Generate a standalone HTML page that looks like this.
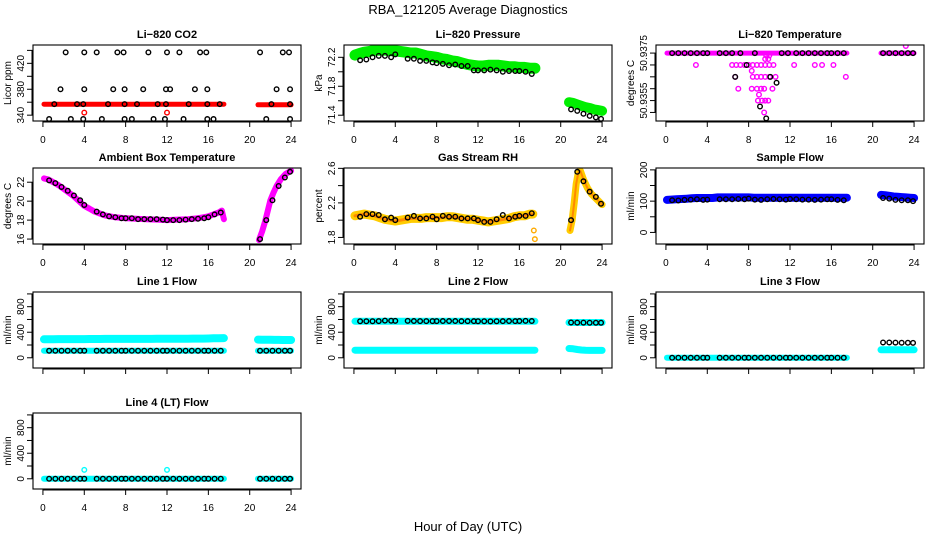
<!DOCTYPE html>
<html><head><meta charset="utf-8"><style>
body{margin:0;background:#fff;}
svg{display:block;font-family:"Liberation Sans",sans-serif;}
</style></head><body>
<svg id="chart" width="936" height="540" viewBox="0 0 936 540" xmlns="http://www.w3.org/2000/svg">
<text x="468" y="14" text-anchor="middle" font-size="13">RBA_121205  Average Diagnostics</text>
<text x="468" y="531" text-anchor="middle" font-size="13">Hour of Day (UTC)</text>
</svg>
<script>
// ---- shared times ----
const bandT1 = [0.1,0.5,1,1.5,2,2.5,3,3.5,4,4.5,5,5.5,6,6.5,7,7.5,8,8.5,9,9.5,10,10.5,11,11.5,12,12.5,13,13.5,14,14.5,15,15.5,16,16.5,17,17.5];
const bandT2 = [20.8,21.2,21.6,22,22.4,22.8,23.2,23.6,24];
const blackT = [0.6,1.2,1.8,2.4,3,3.6,4,5.2,5.8,6.4,7,7.6,8,8.6,9.2,9.8,10.4,11,11.6,12,12.6,13.2,13.8,14.4,15,15.6,16,16.6,17.2,21,21.6,22.2,22.8,23.4,23.9];
const xTicks = [0,4,8,12,16,20,24];

// ---- CO2 ----
const co2Band1 = bandT1.map(()=>357);
const co2Band2 = bandT2.map(()=>356);
const co2BlackT = [2.2,4,5.2,7.2,7.8,10.2,12,13.2,15.2,15.8,21,23.2,23.8, 1.7,4,6.8,7.9,9.7,11.9,12.3,14.7,15.9,22.6,23.9, 1.1,3.3,3.9,6.3,7.9,9.1,11.1,11.9,14.1,15.9,17.1,22.1,23.9, 0.6,2.7,3.9,5.7,7.9,8.6,10.7,11.8,13.6,15.9,16.5,21.6,23.9];
const co2BlackV = [437,437,437,437,437,437,437,437,437,437,437,437,437, 380,380,380,380,380,380,380,380,380,380,380, 357,357,357,357,357,357,357,357,357,357,357,357,357, 334,334,334,334,334,334,334,334,334,334,334,334,334];
const co2RedT = [4,12];
const co2RedV = [344,344];

// ---- Pressure ----
const presBand1 = [72.23,72.25,72.27,72.28,72.30,72.30,72.30,72.29,72.29,72.28,72.27,72.26,72.26,72.24,72.22,72.21,72.20,72.18,72.17,72.15,72.14,72.12,72.10,72.09,72.08,72.08,72.09,72.09,72.09,72.08,72.07,72.07,72.06,72.06,72.05,72.05];
const presBand2 = [71.58,71.57,71.55,71.53,71.51,71.50,71.48,71.47,71.46];
const presBlackV = [72.16,72.17,72.20,72.22,72.22,72.20,72.24,72.18,72.18,72.15,72.15,72.13,72.12,72.11,72.09,72.10,72.08,72.08,72.02,72.02,72.02,72.03,72.02,72.00,72.01,72.01,72.01,72.00,71.97,71.48,71.46,71.42,71.39,71.37,71.35];

// ---- Li-820 Temperature ----
const tempBand1 = bandT1.map(()=>50.9375);
const tempBand2 = bandT2.map(()=>50.9375);
const tempMagT = [2.9,6.4,6.8,7.2,7.6,8,8.4,8.8,9.2,9.6,10,10.4,12.4,14.4,15.1,16.2,9.6,9.9,10,9.7,8.3,6.7,8.4,8.8,9.2,9.6,10,10.6,17.4,7,8.3,8.8,9.2,9.5,10.3,9,8.9,9.3,9.6,9.9,9.5,23.2];
const tempMagV = [50.937,50.937,50.937,50.937,50.937,50.937,50.937,50.937,50.937,50.937,50.937,50.937,50.937,50.937,50.937,50.937,50.93725,50.93725,50.9374,50.9374,50.93675,50.9365,50.9365,50.9365,50.9365,50.9365,50.9365,50.9365,50.9365,50.936,50.936,50.936,50.936,50.936,50.936,50.93575,50.9355,50.9355,50.9355,50.9355,50.9350,50.9378];
const tempBlackT = [0.6,1.2,1.8,2.4,3,3.6,4,5.2,5.8,6.4,7.2,8.6,11.2,11.8,12.6,13.2,13.8,14.4,15,15.6,16,16.6,17.2,21,21.6,22.2,22.8,23.4,23.9,7.8,6.7,10.1,10.7,9.1,9.7];
const tempBlackV = [50.9375,50.9375,50.9375,50.9375,50.9375,50.9375,50.9375,50.9375,50.9375,50.9375,50.9375,50.9375,50.9375,50.9375,50.9375,50.9375,50.9375,50.9375,50.9375,50.9375,50.9375,50.9375,50.9375,50.9375,50.9375,50.9375,50.9375,50.9375,50.9375,50.937,50.9365,50.9365,50.93625,50.93525,50.93475];
const tempTickV = [50.9375,50.937,50.9365,50.936,50.9355,50.935];
const tempTickL = ["50.9375","","","","50.9355",""];

// ---- Ambient ----
const ambT1 = [0.1,0.5,1,1.5,2,2.5,3,3.5,4,4.5,5,5.5,6,7,8,9,10,11,12,13,14,15,15.5,16,16.5,17,17.3,17.5];
const ambV1 = [22.4,22.3,22.0,21.7,21.3,20.9,20.5,20.0,19.5,19.2,18.9,18.7,18.5,18.3,18.2,18.15,18.1,18.05,18.0,18.05,18.1,18.2,18.3,18.4,18.6,18.8,19.0,18.1];
const ambT2 = [20.9,21.2,21.5,21.8,22,22.3,22.6,23,23.5,24];
const ambV2 = [15.9,16.8,17.9,19.2,20.1,20.9,21.6,22.3,22.9,23.2];
const ambBlackV = [22.2,21.9,21.5,21.1,20.6,20.1,19.6,18.9,18.6,18.4,18.3,18.2,18.2,18.2,18.1,18.1,18.1,18.1,18.05,18.0,18.0,18.0,18.05,18.1,18.15,18.2,18.3,18.6,18.8,16.0,18.0,20.1,21.6,22.5,23.1];

// ---- RH ----
const rhT1 = [0.1,0.5,1,1.5,2,2.5,3,3.5,4,4.5,5,5.5,6,6.5,7,7.5,8,8.5,9,9.5,10,10.5,11,11.5,12,12.5,13,13.5,14,14.5,15,15.5,16,16.5,17,17.3];
const rhV1 = [2.05,2.06,2.07,2.06,2.05,2.03,2.01,2.0,1.99,2.0,2.01,2.02,2.02,2.02,2.03,2.03,2.03,2.03,2.04,2.04,2.03,2.02,2.01,2.01,2.0,1.99,1.98,1.99,2.0,2.01,2.02,2.04,2.05,2.05,2.07,2.07];
const rhT2 = [20.9,21.1,21.3,21.5,21.7,21.9,22.2,22.6,23,23.5,24];
const rhV2 = [1.88,2.0,2.2,2.42,2.55,2.57,2.47,2.37,2.3,2.24,2.18];
const rhOutT = [17.4,17.5];
const rhOutV = [1.88,1.78];
const rhBlackV = [2.04,2.07,2.07,2.06,2.01,2.03,2.0,2.03,2.05,2.02,2.02,2.04,2.01,2.05,2.04,2.04,2.02,2.02,2.02,2.0,1.98,1.98,2.01,2.06,2.02,2.04,2.05,2.05,2.08,2.0,2.56,2.45,2.33,2.27,2.19];

// ---- Sample flow ----
const sfBand1 = [104,105,106,107,108,109,110,110,110,110,112,112,112,112,112,112,112,111,111,111,111,111,111,111,111,111,111,111,111,111,111,111,111,111,111,111];
const sfBand2 = [120,119,117,115,114,113,112,111,110];
const sfBlackV = [103,102,104,105,106,104,105,106,106,106,107,106,108,105,104,106,107,106,105,107,106,105,105,104,105,106,106,104,103,110,108,104,103,103,100];

// ---- Line flows ----
const l1Upper1 = [290,290,291,292,292,293,293,293,293,294,294,294,295,295,295,295,295,295,296,296,296,296,297,297,297,297,298,298,299,300,300,301,302,305,306,308];
const l1Upper2 = [285,283,282,281,280,280,279,279,279];
const l1Lower1 = bandT1.map(()=>110);
const l1Lower2 = bandT2.map(()=>110);
const l1BlackV = blackT.map(()=>110);
const l2Upper1 = bandT1.map(()=>572);
const l2Upper2 = bandT2.map(()=>552);
const l2Lower1 = bandT1.map(()=>119);
const l2Lower2 = [145,140,130,122,117,115,115,115,115];
const l2BlackV = [572,572,572,574,582,580,578,578,575,574,574,574,574,575,575,575,573,573,573,572,572,570,572,573,575,573,575,578,575,552,550,550,549,548,548];
const l3Upper1 = bandT1.map(()=>0);
const l3Upper2 = bandT2.map(()=>125);
const l3BlackV = [0,0,0,0,0,0,0,0,0,0,0,0,0,0,0,0,0,0,0,0,0,0,0,0,0,0,0,0,0,240,240,238,236,235,234];
const l4Upper1 = bandT1.map(()=>0);
const l4Upper2 = bandT2.map(()=>0);
const l4OutT = [4,12];
const l4OutV = [140,140];
const l4BlackV = blackT.map(()=>0);

// ---- layout ----
const NS = 'http://www.w3.org/2000/svg';
const svg = document.getElementById('chart');
const colLeft = [33,344,656];
const rowTop = [45,168,292,413];
const PW = 268, PH = 76;
const xMin = -0.96, xMax = 24.96;

function el(tag, attrs, parent){
  const e = document.createElementNS(NS, tag);
  for (const k in attrs) e.setAttribute(k, attrs[k]);
  (parent||svg).appendChild(e);
  return e;
}

function makePanel(name, col, row, title, ylab, yMin, yMax, yTicks, yLabels, showX){
  const g = el('g', {});
  
  
  const L = colLeft[col], T = rowTop[row];
  const sx = t => L + (t - xMin) / (xMax - xMin) * PW;
  const sy = v => T + PH - (v - yMin) / (yMax - yMin) * PH;
  const clip = 'clip-' + name;
  const cp = el('clipPath', {id: clip}, g);
  el('rect', {x: L, y: T, width: PW, height: PH}, cp);
  const marks = el('g', {'clip-path': 'url(#' + clip + ')'}, g);
  
  
  const box = el('rect', {x: L, y: T, width: PW, height: PH, fill: 'none', stroke: '#000', 'stroke-width': 1.1}, g);
  
  
  const tt = el('text', {x: L + PW/2, y: T - 7, 'text-anchor': 'middle', 'font-size': 11, 'font-weight': 'bold'}, g);
  tt.textContent = title;
  
  
  const yl = el('text', {x: 0, y: 0, 'text-anchor': 'middle', 'font-size': 10, transform: 'translate(' + (L - 22) + ',' + (T + PH/2) + ') rotate(-90)'}, g);
  yl.textContent = ylab;
  
  
  const xa = el('g', {}, g);
  
  
  el('line', {x1: sx(xTicks[0]), x2: sx(xTicks[xTicks.length-1]), y1: T+PH+1, y2: T+PH+1, stroke: '#000'}, xa);
  xTicks.forEach(t => {
    el('line', {x1: sx(t), x2: sx(t), y1: T+PH, y2: T+PH+6, stroke: '#000'}, xa);
    if (showX) {
      const tx = el('text', {x: sx(t), y: T+PH+22, 'text-anchor': 'middle', 'font-size': 10}, xa);
      tx.textContent = String(t);
      
      
    }
  });
  const ya = el('g', {}, g);
  
  
  el('line', {x1: L-1, x2: L-1, y1: sy(yTicks[0]), y2: sy(yTicks[yTicks.length-1]), stroke: '#000'}, ya);
  yTicks.forEach((v, i) => {
    el('line', {x1: L-6, x2: L, y1: sy(v), y2: sy(v), stroke: '#000'}, ya);
    if (yLabels[i]) {
      const tx = el('text', {x: 0, y: 0, 'text-anchor': 'middle', 'font-size': 10, transform: 'translate(' + (L - 9) + ',' + sy(v) + ') rotate(-90)'}, ya);
      tx.textContent = yLabels[i];
      
      
    }
  });
  return {
    band(ts, vs, color, w, nm){
      const pts = ts.map((t,i) => sx(t).toFixed(1) + ',' + sy(vs[i]).toFixed(1)).join(' ');
      const p = el('polyline', {points: pts, fill: 'none', stroke: color, 'stroke-width': w, 'stroke-linecap': 'round', 'stroke-linejoin': 'round'}, marks);
      
      
    },
    pts(ts, vs, color, r, nm, sw){
      ts.forEach((t,i) => {
        const c = el('circle', {cx: sx(t), cy: sy(vs[i]), r: r, fill: 'none', stroke: color, 'stroke-width': sw||1.4}, marks);
        
        
      });
    }
  };
}

const flowTicks = [0,200,400,600,800,1000];
const flowLabels = ['0','','400','','800',''];
const R = 2.3;

let p = makePanel('co2', 0, 0, 'Li\u2212820 CO2', 'Licor ppm', 331, 448.3, [340,360,380,400,420,440], ['340','','380','','420',''], true);
p.band(bandT1, co2Band1, '#ff0000', 5, 'co2-band');
p.band(bandT2, co2Band2, '#ff0000', 5, 'co2-band');
p.pts(co2RedT, co2RedV, '#ff0000', R, 'co2-red-point');
p.pts(co2BlackT, co2BlackV, '#000', R, 'co2-point');

p = makePanel('pressure', 1, 0, 'Li\u2212820 Pressure', 'kPa', 71.32, 72.37, [71.4,71.6,71.8,72.0,72.2], ['71.4','','71.8','','72.2'], true);
p.band(bandT1, presBand1, '#00ee00', 11, 'pressure-band');
p.band(bandT2, presBand2, '#00ee00', 10, 'pressure-band');
p.pts(blackT, presBlackV, '#000', R, 'pressure-point');

p = makePanel('temperature', 2, 0, 'Li\u2212820 Temperature', 'degrees C', 50.93464, 50.93784, tempTickV.slice().reverse(), tempTickL.slice().reverse(), true);
p.band(bandT1, tempBand1, '#ff00ff', 5, 'temperature-band');
p.band(bandT2, tempBand2, '#ff00ff', 5, 'temperature-band');
p.pts(tempMagT, tempMagV, '#ff00ff', R, 'temperature-magenta-point');
p.pts(tempBlackT, tempBlackV, '#000', R, 'temperature-point');

p = makePanel('ambient', 0, 1, 'Ambient Box Temperature', 'degrees C', 15.48, 23.5, [16,18,20,22], ['16','18','20','22'], true);
p.band(ambT1, ambV1, '#ff00ff', 6, 'ambient-band');
p.band(ambT2, ambV2, '#ff00ff', 6, 'ambient-band');
p.pts(blackT, ambBlackV, '#000', R, 'ambient-point');

p = makePanel('rh', 1, 1, 'Gas Stream RH', 'percent', 1.724, 2.604, [1.8,2.0,2.2,2.4,2.6], ['1.8','','2.2','','2.6'], true);
p.band(rhT1, rhV1, '#ffcc00', 9, 'rh-band');
p.band(rhT1, rhV1, '#ff8800', 3, 'rh-band-core');
p.band(rhT2, rhV2, '#ffcc00', 7, 'rh-band');
p.band(rhT2, rhV2, '#ff8800', 2, 'rh-band-core');
p.pts(rhOutT, rhOutV, '#ffaa00', R, 'rh-outlier');
p.pts(blackT, rhBlackV, '#000', R, 'rh-point');

p = makePanel('sample-flow', 2, 1, 'Sample Flow', 'ml/min', -37, 206, [0,50,100,150,200], ['0','','100','','200'], true);
p.band(bandT1, sfBand1, '#0000ff', 8, 'sample-flow-band');
p.band(bandT2, sfBand2, '#0000ff', 8, 'sample-flow-band');
p.pts(blackT, sfBlackV, '#000', R, 'sample-flow-point');

p = makePanel('line1', 0, 2, 'Line 1 Flow', 'ml/min', -160, 1030, flowTicks, flowLabels, false);
p.band(bandT1, l1Upper1, '#00ffff', 8, 'line1-upper-band');
p.band(bandT2, l1Upper2, '#00ffff', 8, 'line1-upper-band');
p.band(bandT1, l1Lower1, '#00ffff', 6, 'line1-lower-band');
p.band(bandT2, l1Lower2, '#00ffff', 6, 'line1-lower-band');
p.pts(blackT, l1BlackV, '#000', R, 'line1-point');

p = makePanel('line2', 1, 2, 'Line 2 Flow', 'ml/min', -160, 1030, flowTicks, flowLabels, false);
p.band(bandT1, l2Upper1, '#00ffff', 7, 'line2-upper-band');
p.band(bandT2, l2Upper2, '#00ffff', 7, 'line2-upper-band');
p.band(bandT1, l2Lower1, '#00ffff', 7, 'line2-lower-band');
p.band(bandT2, l2Lower2, '#00ffff', 7, 'line2-lower-band');
p.pts(blackT, l2BlackV, '#000', R, 'line2-point');

p = makePanel('line3', 2, 2, 'Line 3 Flow', 'ml/min', -160, 1030, flowTicks, flowLabels, false);
p.band(bandT1, l3Upper1, '#00ffff', 6, 'line3-band');
p.band(bandT2, l3Upper2, '#00ffff', 7, 'line3-band');
p.pts(blackT, l3BlackV, '#000', R, 'line3-point');

p = makePanel('line4', 0, 3, 'Line 4 (LT) Flow', 'ml/min', -160, 1030, flowTicks, flowLabels, true);
p.band(bandT1, l4Upper1, '#00ffff', 6, 'line4-band');
p.band(bandT2, l4Upper2, '#00ffff', 6, 'line4-band');
p.pts(l4OutT, l4OutV, '#00ffff', R, 'line4-outlier');
p.pts(blackT, l4BlackV, '#000', R, 'line4-point');
</script>
</body></html>
